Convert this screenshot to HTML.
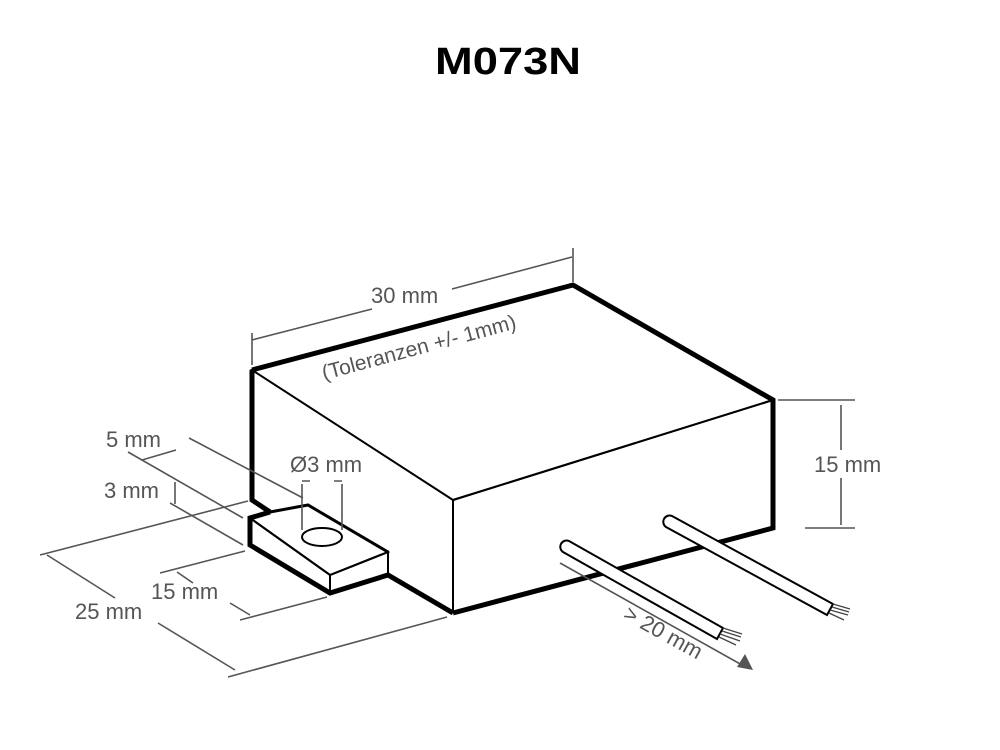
<!DOCTYPE html>
<html><head><meta charset="utf-8"><style>
html,body{margin:0;padding:0;background:#fff;}
svg{display:block;}
text{font-family:"Liberation Sans",sans-serif;fill:#555;font-size:22px;}
</style></head><body>
<svg width="1000" height="750" viewBox="0 0 1000 750" xmlns="http://www.w3.org/2000/svg">
<text x="508" y="74" text-anchor="middle" style="font-size:38px;font-weight:bold;fill:#000" textLength="146" lengthAdjust="spacingAndGlyphs">M073N</text>

<g stroke="#000" fill="none" stroke-linejoin="miter">
  <polygon points="252,370 573,285 773,400 453,500" fill="#fff" stroke-width="2"/>
  <path d="M252,370 L573,285 L773,400 L773,528 L453,613" stroke-width="5"/>
  <path d="M252,370 L252,500 L270,512" stroke-width="5"/>
  <path d="M453,500 L453,613" stroke-width="2"/>
  <path d="M773,400 L453,500" stroke-width="2"/>
  <polygon points="250,518 270,512 308,505 388,552 330,575" fill="#fff" stroke-width="2"/>
  <path d="M270,512 L250,518 L250,545 L330,593 L388,575 L453,613" stroke-width="5"/>
  <path d="M270,512 L308,505 L388,552" stroke-width="3"/>
  <path d="M250,518 L330,575 L388,552 L388,575 M330,575 L330,593" stroke-width="2"/>
  <ellipse cx="322" cy="537" rx="20" ry="9" fill="#fff" stroke-width="2"/>
</g>

<g stroke="#000" stroke-width="2" fill="#fff">
  <path d="M569,541 L723,628 L717,639 L563,552 A6.3,6.3 0 0 1 569,541 Z"/>
  <path d="M672,516 L833,604 L827,615 L666,527 A6.3,6.3 0 0 1 672,516 Z"/>
</g>
<g stroke="#444" stroke-width="1.3">
  <path d="M723,628 L742,634 M722,631 L741,637 M720,634 L740,641 M719,637 L736,645"/>
  <path d="M833,604 L850,609 M832,607 L849,612 M830,610 L848,615 M829,613 L844,620"/>
</g>

<g stroke="#555" stroke-width="1.6" fill="none">
  <path d="M252,333 L252,365 M573,248 L573,282"/>
  <path d="M252,340 L372,309 M452,289 L572,257"/>
  <path d="M778,400 L855,400 M805,528 L855,528 M841,405 L841,450 M841,478 L841,525"/>
  <path d="M560,563 L742,665"/>
  <path d="M189,438 L303,498 M128,452 L243,518 M142,460 L176,450"/>
  <path d="M170,503 L243,545 M175,482 L175,504" />
  <path d="M40,555 L248,501 M47,555 L115,598 M158,623 L235,670 M228,677 L447,617"/>
  <path d="M160,573 L245,551 M177,572 L193,583 M230,603 L250,615 M240,620 L327,597"/>
  <path d="M302,484 L302,530 M342,484 L342,530 M302,481 L310,481 M334,481 L342,481"/>
</g>
<polygon points="753,670 737,667 745,654" fill="#555"/>

<text x="371" y="303">30 mm</text>
<text transform="translate(324,380) rotate(-15)" style="font-size:21px">(Toleranzen +/- 1mm)</text>
<text x="814" y="472">15 mm</text>
<text x="290" y="472">Ø3 mm</text>
<text x="106" y="447">5 mm</text>
<text x="104" y="498">3 mm</text>
<text x="151" y="599">15 mm</text>
<text x="75" y="619">25 mm</text>
<text transform="translate(622,618) rotate(29)">&gt; 20 mm</text>
</svg>
</body></html>
